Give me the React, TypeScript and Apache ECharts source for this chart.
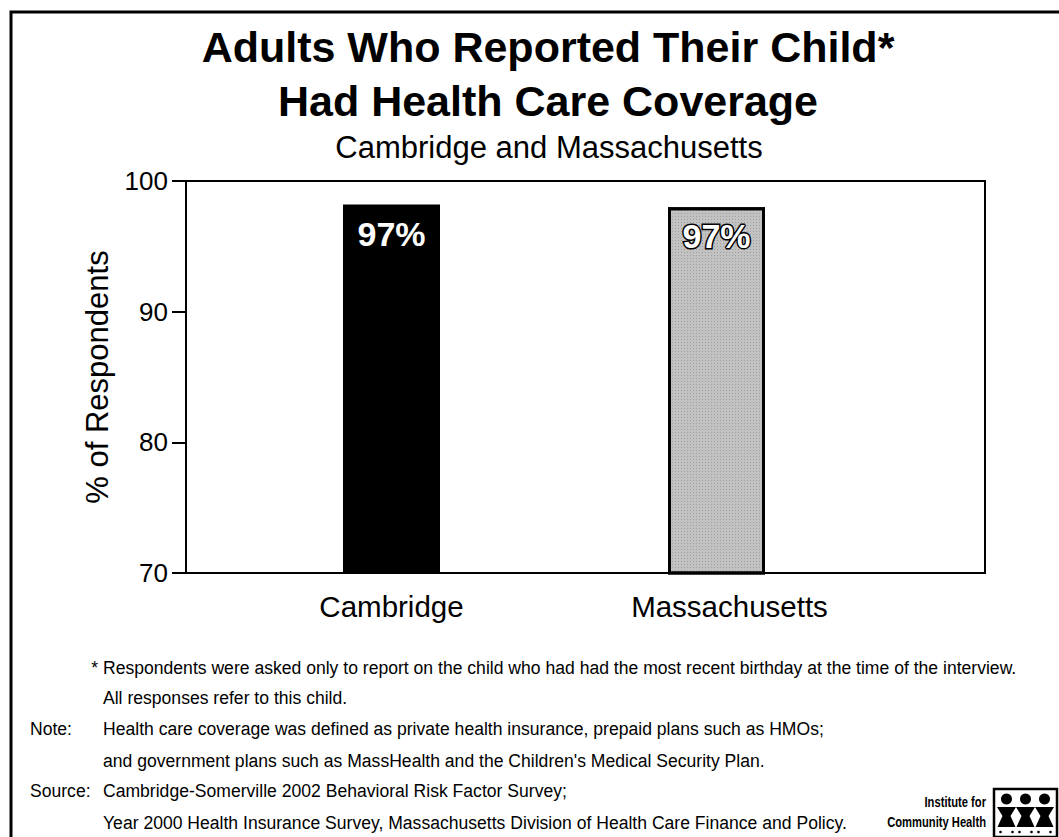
import React, { useEffect, useRef } from "react";
import * as echarts from "echarts";

const categories = ["Cambridge", "Massachusetts"];
const values = [98.2, 98.0];
const valueLabels = ["97%", "97%"];
const yMin = 70;
const yMax = 100;
const yInterval = 10;
const titleLines = ["Adults Who Reported Their Child*", "Had Health Care Coverage"];
const subtitle = "Cambridge and Massachusetts";
const yAxisName = "% of Respondents";
const footnoteLabels = ["", "", "Note:", "", "Source:", ""];
const footnoteTexts = [
  "Respondents were asked only to report on the child who had had the most recent birthday at the time of the interview.",
  "All responses refer to this child.",
  "Health care coverage was defined as private health insurance, prepaid plans such as HMOs;",
  "and government plans such as MassHealth and the Children's Medical Security Plan.",
  "Cambridge-Somerville 2002 Behavioral Risk Factor Survey;",
  "Year 2000 Health Insurance Survey, Massachusetts Division of Health Care Finance and Policy.",
];
const logoLines = ["Institute for", "Community Health"];

const FONT = '"Liberation Sans", Arial, Helvetica, sans-serif';

function buildLogo(x0: number, y0: number, w: number, h: number) {
  const els: any[] = [];
  els.push({
    type: "rect",
    shape: { x: x0, y: y0, width: w, height: h },
    style: { fill: "#fff", stroke: "#000", lineWidth: 2.5 },
  });
  const step = (w - 6) / 3;
  for (let i = 0; i < 3; i++) {
    const cx = x0 + 3 + step * (i + 0.5);
    els.push({
      type: "circle",
      shape: { cx, cy: y0 + 10, r: 5.5 },
      style: { fill: "#000" },
    });
    els.push({
      type: "polygon",
      shape: {
        points: [
          [cx - step / 2, y0 + 18],
          [cx + step / 2, y0 + 18],
          [cx + 4, y0 + 27],
          [cx + 9, y0 + 38],
          [cx - 9, y0 + 38],
          [cx - 4, y0 + 27],
        ],
      },
      style: { fill: "#000" },
    });
    els.push({
      type: "circle",
      shape: { cx: cx - 6, cy: y0 + 43, r: 1.3 },
      style: { fill: "#000" },
    });
    els.push({
      type: "circle",
      shape: { cx: cx + 6, cy: y0 + 43, r: 1.3 },
      style: { fill: "#000" },
    });
  }
  return els;
}

export default function App() {
  const ref = useRef<HTMLDivElement>(null);
  useEffect(() => {
    if (!ref.current) return;
    const chart = echarts.init(ref.current, undefined, { renderer: "svg" });

    const footY = [667, 697, 728, 760, 790, 822];
    const footFont = `19px ${FONT}`;
    const footScale = 0.925;
    const graphics: any[] = [
      {
        type: "rect",
        shape: { x: 11, y: 12, width: 1100, height: 900 },
        style: { fill: "none", stroke: "#000", lineWidth: 3 },
        z: 100,
      },
      {
        type: "text",
        x: 548,
        y: 47,
        style: {
          text: titleLines[0],
          font: `bold 43px ${FONT}`,
          fill: "#000",
          textAlign: "center",
          textVerticalAlign: "middle",
        },
      },
      {
        type: "text",
        x: 548,
        y: 101,
        style: {
          text: titleLines[1],
          font: `bold 43px ${FONT}`,
          fill: "#000",
          textAlign: "center",
          textVerticalAlign: "middle",
        },
      },
      {
        type: "text",
        x: 549,
        y: 147,
        style: {
          text: subtitle,
          font: `31px ${FONT}`,
          fill: "#000",
          textAlign: "center",
          textVerticalAlign: "middle",
        },
      },
      {
        type: "text",
        x: 98,
        y: footY[0],
        scaleX: footScale,
        style: {
          text: "*",
          font: footFont,
          fill: "#000",
          textAlign: "right",
          textVerticalAlign: "middle",
        },
      },
    ];
    footnoteTexts.forEach((t, i) => {
      graphics.push({
        type: "text",
        x: 103,
        y: footY[i],
        scaleX: footScale,
        style: {
          text: t,
          font: footFont,
          fill: "#000",
          textAlign: "left",
          textVerticalAlign: "middle",
        },
      });
      if (footnoteLabels[i]) {
        graphics.push({
          type: "text",
          x: 30,
          y: footY[i],
          scaleX: footScale,
          style: {
            text: footnoteLabels[i],
            font: footFont,
            fill: "#000",
            textAlign: "left",
            textVerticalAlign: "middle",
          },
        });
      }
    });
    logoLines.forEach((t, i) => {
      graphics.push({
        type: "text",
        x: 986,
        y: 803 + i * 20,
        scaleX: 0.8,
        style: {
          text: t,
          font: `bold 14px ${FONT}`,
          fill: "#000",
          textAlign: "right",
          textVerticalAlign: "middle",
        },
      });
    });
    graphics.push(...buildLogo(994, 789, 63, 48));

    const option: any = {
      animation: false,
      backgroundColor: "#fff",
      grid: [
        { left: 186, right: 74, top: 181, bottom: 264, show: true, borderColor: "#000", borderWidth: 2, backgroundColor: "transparent" },
        { left: 229, right: 180, top: 181, bottom: 264, show: false },
      ],
      xAxis: [
        { type: "category", gridIndex: 0, data: categories, show: false },
        {
          type: "category",
          gridIndex: 1,
          data: categories.map((c, i) =>
            i === 1 ? { value: c, textStyle: { padding: [0, 0, 0, 26] } } : c
          ),
          axisLine: { show: false },
          axisTick: { show: false },
          axisLabel: { fontSize: 29.5, color: "#000", fontFamily: FONT, margin: 18 },
        },
      ],
      yAxis: [
        {
          type: "value",
          gridIndex: 0,
          min: yMin,
          max: yMax,
          interval: yInterval,
          name: yAxisName,
          nameLocation: "middle",
          nameRotate: 90,
          nameGap: 73,
          nameTextStyle: { fontSize: 31, color: "#000", fontFamily: FONT },
          axisLine: { show: true, lineStyle: { color: "#000", width: 2 } },
          axisTick: { show: true, length: 14, lineStyle: { color: "#000", width: 2 } },
          axisLabel: { fontSize: 26, color: "#000", fontFamily: FONT, margin: 18 },
          splitLine: { show: false },
        },
        { type: "value", gridIndex: 1, min: yMin, max: yMax, show: false },
      ],
      series: [
        {
          type: "bar",
          xAxisIndex: 1,
          yAxisIndex: 1,
          barWidth: 97,
          data: values.map((v, i) =>
            i === 0
              ? {
                  value: v,
                  itemStyle: { color: "#000" },
                  label: { color: "#fff", textBorderWidth: 0 },
                }
              : {
                  value: v,
                  itemStyle: {
                    color: "#c2c2c2",
                    borderColor: "#000",
                    borderWidth: 3,
                    decal: {
                      symbol: "rect",
                      symbolSize: 1,
                      color: "rgba(0,0,0,0.18)",
                      dashArrayX: [1, 2],
                      dashArrayY: [1, 2],
                      rotation: 0,
                    },
                  },
                  label: { color: "#fff", textBorderColor: "#000", textBorderWidth: 3 },
                }
          ),
          label: {
            show: true,
            position: "insideTop",
            distance: 12,
            fontSize: 34,
            fontWeight: "bold",
            fontFamily: FONT,
            formatter: (p: any) => valueLabels[p.dataIndex],
          },
        },
      ],
      graphic: graphics,
    };
    chart.setOption(option);
    return () => chart.dispose();
  }, []);
  return (
    <div
      ref={ref}
      style={{ position: "fixed", left: 0, top: 0, width: 1059, height: 837, background: "#fff" }}
    />
  );
}
